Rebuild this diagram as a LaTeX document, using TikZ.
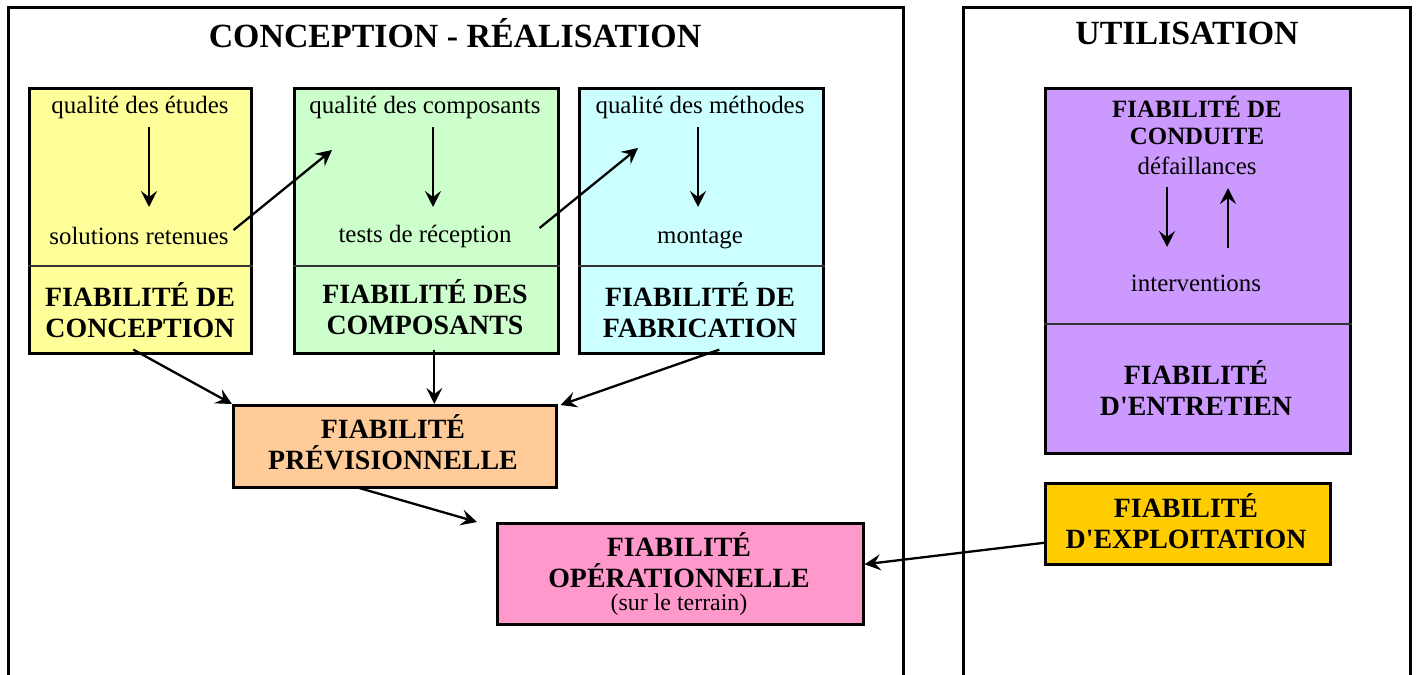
\documentclass[tikz,border=0pt]{standalone}
\usepackage{fontspec}
\setmainfont{Liberation Serif}
\usetikzlibrary{arrows.meta,calc}

\definecolor{fYellow}{HTML}{FFFF99}
\definecolor{fGreen}{HTML}{CCFFCC}
\definecolor{fCyan}{HTML}{CCFFFF}
\definecolor{fOrange}{HTML}{FFCC99}
\definecolor{fPink}{HTML}{FF99CC}
\definecolor{fViolet}{HTML}{CC99FF}
\definecolor{fGold}{HTML}{FFCC00}
\definecolor{divgray}{HTML}{333333}

\begin{document}
\begin{tikzpicture}[x=1bp,y=-1bp,
  frameline/.style={line width=3bp,line join=miter},
  box/.style={draw,line width=2.6bp,rectangle,inner sep=0pt,anchor=north west},
  divider/.style={draw=divgray,line width=1.3bp},
  ttl/.style={inner sep=0pt,font=\fontsize{34}{37}\selectfont\bfseries},
  lbl/.style={inner sep=0pt,font=\fontsize{25}{29}\selectfont},
  big/.style={inner sep=0pt,align=center,font=\fontsize{28}{31}\selectfont\bfseries},
  mid/.style={inner sep=0pt,align=center,font=\fontsize{25}{27}\selectfont\bfseries},
  small/.style={inner sep=0pt,font=\fontsize{24}{27}\selectfont},
  arr/.style={-{Stealth[length=16bp,width=16bp,inset=6bp]},line width=2.3bp},
]
\useasboundingbox (0,0) rectangle (1418,675);

% the two phase frames (open at the bottom)
\draw[frameline] (8,680) -- (8,8) -- (903,8) -- (903,680);
\draw[frameline] (963,680) -- (963,8) -- (1410,8) -- (1410,680);
\node[ttl] (t1) at (455,33) {CONCEPTION - RÉALISATION};
\node[ttl] (t2) at (1187,33) {UTILISATION};

% design / build boxes
\node[box,fill=fYellow,minimum width=222bp,minimum height=265bp] (yb) at (28,87) {};
\node[box,fill=fGreen,minimum width=264bp,minimum height=265bp] (gb) at (293,87) {};
\node[box,fill=fCyan,minimum width=244bp,minimum height=265bp] (cb) at (578,87) {};
\foreach \b in {yb,gb,cb}
  \draw[divider] ($(\b.north west)+(0,179)$) -- ($(\b.north east)+(0,179)$);

\node[lbl] (qe) at (140,107) {qualité des études};
\node[lbl] (sr) at (139,236) {solutions retenues};
\node[big] (fc) at (140,310) {FIABILITÉ DE\\CONCEPTION};

\node[lbl] (qc) at (425,107) {qualité des composants};
\node[lbl] (tr) at (425,236) {tests de réception};
\node[big] (fo) at (425,307) {FIABILITÉ DES\\COMPOSANTS};

\node[lbl] (qm) at (700,107) {qualité des méthodes};
\node[lbl] (mo) at (700,239) {montage};
\node[big] (ff) at (700,310) {FIABILITÉ DE\\FABRICATION};

\draw[arr] ($(yb.north west)+(121,40)$) -- ($(yb.north west)+(121,120)$);
\draw[arr] ($(gb.north west)+(140,40)$) -- ($(gb.north west)+(140,120)$);
\draw[arr] ($(cb.north west)+(120,40)$) -- ($(cb.north west)+(120,120)$);
\draw[arr] ($(yb.north east)+(-19,143)$) -- ($(gb.north west)+(39,63)$);
\draw[arr] ($(gb.north east)+(-20,141)$) -- ($(cb.north west)+(60,61)$);

% forecast and field reliability
\node[box,fill=fOrange,minimum width=323bp,minimum height=82bp] (ob) at (232,404) {};
\node[big] (fp) at (393,442) {FIABILITÉ\\PRÉVISIONNELLE};

\node[box,fill=fPink,minimum width=366bp,minimum height=101bp] (pb) at (496,522) {};
\node[big] (fop) at (679,560) {FIABILITÉ\\OPÉRATIONNELLE};
\node[small] (st) at (679,605) {(sur le terrain)};

\draw[arr] ($(yb.south)+(-7,-5)$) -- (ob.north west);
\draw[arr] ($(gb.south)+(8,-5)$) coordinate (g0) -- (g0 |- ob.north);
\draw[arr] ($(cb.south)+(18,-5)$) -- ($(ob.north east)+(3,1)$);
\draw[arr] ($(ob.south)+(-37,-1)$) -- ($(pb.north west)+(-19,0)$);

% use phase
\node[box,fill=fViolet,minimum width=305bp,minimum height=365bp] (vb) at (1044,87) {};
\draw[divider] ($(vb.north west)+(0,237)$) -- ($(vb.north east)+(0,237)$);
\node[mid] (fcd) at (1197,120) {FIABILITÉ DE\\CONDUITE};
\node[lbl] (df) at (1197,166) {défaillances};
\node[lbl] (iv) at (1196,283) {interventions};
\node[big] (fe) at (1196,388) {FIABILITÉ\\D\textquotesingle ENTRETIEN};
\draw[arr] ($(vb.north west)+(123,100)$) -- ($(vb.north west)+(123,160)$);
\draw[arr] ($(vb.north west)+(184,161)$) -- ($(vb.north west)+(184,101)$);

\node[box,fill=fGold,minimum width=285bp,minimum height=81bp] (xb) at (1044,482) {};
\node[big] (fx) at (1186,521) {FIABILITÉ\\D\textquotesingle EXPLOITATION};

\draw[arr] ($(xb.west)+(0,19)$) -- ($(pb.east)+(0,-9.5)$);
\end{tikzpicture}
\end{document}
